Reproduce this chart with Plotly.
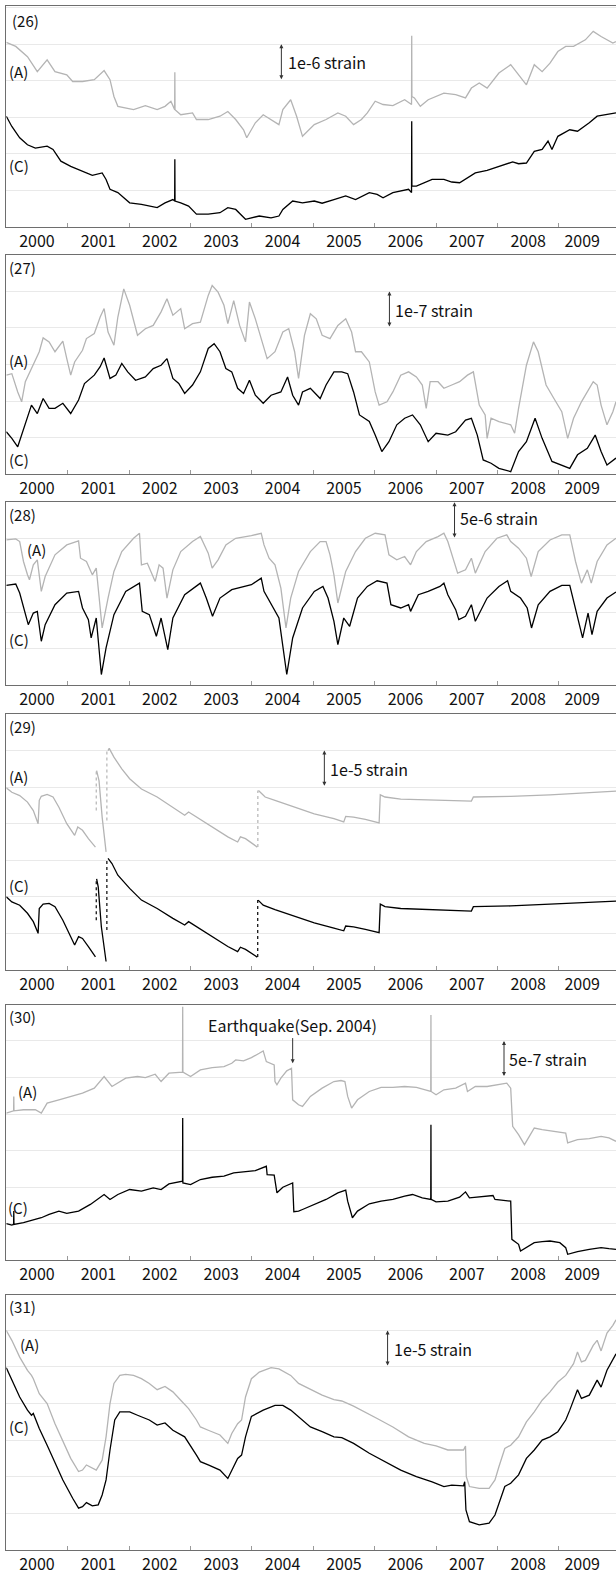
import plotly.graph_objects as go

# ---------------- Panel (26): values in 1e-6 strain ----------------
yr26_a = [2000.0, 2000.154, 2000.345, 2000.505, 2000.665, 2000.793, 2000.985, 2001.081, 2001.241, 2001.433,
          2001.593, 2001.689, 2001.753, 2001.817, 2002.073, 2002.265, 2002.457, 2002.585, 2002.681, 2002.742,
          2002.745, 2002.748, 2002.841, 2003.033, 2003.097, 2003.289, 2003.48, 2003.608, 2003.736, 2003.864,
          2003.916, 2004.056, 2004.184, 2004.312, 2004.44, 2004.504, 2004.632, 2004.728, 2004.824, 2005.016,
          2005.208, 2005.4, 2005.528, 2005.656, 2005.784, 2005.88, 2006.008, 2006.136, 2006.296, 2006.488,
          2006.6, 2006.603, 2006.606, 2006.647, 2006.743, 2006.871, 2006.999, 2007.127, 2007.319, 2007.479,
          2007.575, 2007.703, 2007.831, 2008.023, 2008.215, 2008.343, 2008.471, 2008.599, 2008.727, 2008.855,
          2008.983, 2009.111, 2009.239, 2009.431, 2009.559, 2009.687, 2009.879, 2009.93]
v26_a = [5.05, 4.94, 4.66, 4.25, 4.57, 4.25, 4.16, 3.98, 3.98, 4.03,
         4.28, 4.03, 3.57, 3.30, 3.21, 3.32, 3.21, 3.30, 3.44, 3.21,
         4.23, 3.21, 3.07, 3.12, 2.94, 2.94, 3.03, 3.16, 2.94, 2.66,
         2.44, 2.85, 3.07, 2.94, 2.80, 3.21, 3.48, 3.03, 2.48, 2.80,
         2.94, 3.12, 3.03, 2.80, 2.94, 3.12, 3.44, 3.35, 3.32, 3.48,
         3.35, 5.23, 3.57, 3.53, 3.30, 3.48, 3.57, 3.66, 3.62, 3.53,
         3.80, 3.94, 3.80, 4.21, 4.44, 4.16, 3.89, 4.44, 4.25, 4.48,
         4.80, 4.94, 4.94, 5.12, 5.35, 5.21, 5.03, 5.07]
yr26_c = [2000.0, 2000.09, 2000.218, 2000.345, 2000.473, 2000.665, 2000.761, 2000.889, 2001.049, 2001.241,
          2001.401, 2001.561, 2001.625, 2001.689, 2001.817, 2002.009, 2002.201, 2002.457, 2002.585, 2002.713,
          2002.742, 2002.745, 2002.748, 2002.841, 2002.969, 2003.097, 2003.289, 2003.48, 2003.608, 2003.736,
          2003.896, 2004.12, 2004.312, 2004.44, 2004.504, 2004.664, 2004.824, 2005.016, 2005.144, 2005.336,
          2005.528, 2005.688, 2005.912, 2006.04, 2006.136, 2006.296, 2006.424, 2006.552, 2006.6, 2006.603,
          2006.606, 2006.679, 2006.807, 2006.935, 2007.127, 2007.255, 2007.383, 2007.511, 2007.639, 2007.831,
          2008.023, 2008.247, 2008.343, 2008.471, 2008.599, 2008.727, 2008.823, 2008.887, 2008.983, 2009.177,
          2009.303, 2009.495, 2009.623, 2009.751, 2009.93]
v26_c = [3.03, 2.75, 2.44, 2.25, 2.16, 2.21, 2.12, 1.80, 1.66, 1.53,
         1.41, 1.48, 1.30, 1.03, 0.94, 0.66, 0.62, 0.53, 0.66, 0.75,
         0.71, 1.85, 0.71, 0.66, 0.57, 0.35, 0.35, 0.39, 0.53, 0.48,
         0.21, 0.30, 0.25, 0.30, 0.48, 0.71, 0.66, 0.71, 0.65, 0.75,
         0.85, 0.75, 0.94, 0.89, 0.80, 0.94, 0.98, 1.03, 0.94, 2.89,
         1.12, 1.12, 1.21, 1.30, 1.30, 1.23, 1.21, 1.35, 1.48, 1.55,
         1.66, 1.78, 1.73, 1.75, 2.07, 2.12, 2.35, 2.12, 2.48, 2.66,
         2.62, 2.85, 3.03, 3.07, 3.12]

# ---------------- Panel (27): values in 1e-7 strain ----------------
yr27_a = [2000.0, 2000.09, 2000.186, 2000.25, 2000.31, 2000.41, 2000.473, 2000.537, 2000.60, 2000.697,
          2000.793, 2000.921, 2000.985, 2001.049, 2001.113, 2001.241, 2001.305, 2001.433, 2001.529, 2001.593,
          2001.657, 2001.753, 2001.817, 2001.913, 2002.009, 2002.137, 2002.265, 2002.393, 2002.521, 2002.617,
          2002.713, 2002.841, 2002.905, 2003.033, 2003.161, 2003.289, 2003.353, 2003.449, 2003.545, 2003.608,
          2003.704, 2003.8, 2003.896, 2003.96, 2004.056, 2004.184, 2004.248, 2004.376, 2004.504, 2004.6,
          2004.696, 2004.76, 2004.856, 2004.952, 2005.048, 2005.144, 2005.272, 2005.4, 2005.528, 2005.624,
          2005.688, 2005.784, 2005.912, 2006.008, 2006.072, 2006.2, 2006.296, 2006.424, 2006.552, 2006.679,
          2006.775, 2006.839, 2006.903, 2007.031, 2007.127, 2007.255, 2007.383, 2007.511, 2007.607, 2007.703,
          2007.799, 2007.831, 2007.895, 2008.023, 2008.215, 2008.279, 2008.343, 2008.471, 2008.586, 2008.663,
          2008.791, 2008.919, 2009.047, 2009.143, 2009.239, 2009.367, 2009.559, 2009.623, 2009.687, 2009.783,
          2009.879, 2009.93]
v27_a = [2.71, 2.75, 2.25, 1.98, 2.53, 2.89, 3.16, 3.35, 3.73, 3.62,
         3.35, 3.64, 3.16, 2.71, 3.07, 3.39, 3.71, 3.85, 4.30, 4.53,
         3.89, 3.53, 4.30, 5.07, 4.62, 3.80, 3.98, 4.07, 4.44, 4.80,
         4.35, 4.53, 3.98, 4.12, 4.16, 4.89, 5.16, 4.98, 4.62, 4.12,
         4.75, 4.07, 3.62, 4.71, 4.25, 3.53, 3.16, 3.35, 3.89, 3.98,
         3.35, 2.62, 3.80, 4.39, 4.25, 3.80, 3.71, 4.07, 4.25, 3.89,
         3.35, 3.35, 3.07, 2.25, 1.89, 1.98, 2.25, 2.71, 2.80, 2.66,
         2.44, 1.80, 2.53, 2.53, 2.35, 2.44, 2.53, 2.71, 2.80, 1.89,
         1.62, 0.98, 1.53, 1.44, 1.35, 1.12, 1.80, 2.98, 3.62, 3.35,
         2.44, 2.07, 1.71, 0.98, 1.53, 1.98, 2.53, 2.44, 1.89, 1.35,
         1.71, 1.98]
yr27_c = [2000.0, 2000.09, 2000.186, 2000.28, 2000.41, 2000.505, 2000.60, 2000.697, 2000.793, 2000.921,
          2001.049, 2001.177, 2001.273, 2001.433, 2001.529, 2001.593, 2001.689, 2001.785, 2001.881, 2001.977,
          2002.105, 2002.265, 2002.393, 2002.521, 2002.617, 2002.713, 2002.809, 2002.905, 2003.033, 2003.161,
          2003.289, 2003.385, 2003.48, 2003.576, 2003.672, 2003.768, 2003.864, 2003.96, 2004.056, 2004.184,
          2004.312, 2004.472, 2004.581, 2004.664, 2004.76, 2004.824, 2004.952, 2005.112, 2005.208, 2005.336,
          2005.464, 2005.56, 2005.656, 2005.752, 2005.912, 2006.008, 2006.116, 2006.232, 2006.36, 2006.488,
          2006.616, 2006.743, 2006.871, 2006.999, 2007.191, 2007.319, 2007.479, 2007.575, 2007.671, 2007.767,
          2007.895, 2008.023, 2008.215, 2008.343, 2008.471, 2008.612, 2008.727, 2008.887, 2009.047, 2009.177,
          2009.303, 2009.463, 2009.591, 2009.687, 2009.783, 2009.879, 2009.93]
v27_c = [1.16, 0.98, 0.75, 1.25, 1.89, 1.66, 2.07, 1.80, 1.80, 1.94,
         1.66, 2.03, 2.48, 2.71, 2.94, 3.18, 2.62, 2.71, 3.03, 2.80,
         2.57, 2.66, 2.89, 2.98, 3.16, 2.62, 2.48, 2.21, 2.44, 2.80,
         3.44, 3.57, 3.35, 2.89, 2.80, 2.35, 2.21, 2.57, 2.16, 1.94,
         2.16, 2.25, 2.66, 2.16, 1.89, 2.25, 2.35, 2.07, 2.44, 2.80,
         2.80, 2.75, 2.25, 1.62, 1.44, 1.07, 0.62, 0.89, 1.35, 1.53,
         1.62, 1.35, 0.89, 1.12, 1.07, 1.16, 1.48, 1.53, 1.07, 0.39,
         0.30, 0.16, 0.07, 0.62, 0.89, 1.53, 0.98, 0.35, 0.25, 0.16,
         0.53, 0.71, 1.07, 0.62, 0.25, 0.39, 0.44]

# ---------------- Panel (28): values in 1e-6 strain ----------------
yr28_a = [2000.0, 2000.154, 2000.218, 2000.28, 2000.345, 2000.377, 2000.44, 2000.505, 2000.57, 2000.633,
          2000.793, 2000.985, 2001.177, 2001.209, 2001.305, 2001.401, 2001.465, 2001.529, 2001.561, 2001.657,
          2001.753, 2001.881, 2002.073, 2002.169, 2002.201, 2002.297, 2002.425, 2002.489, 2002.553, 2002.617,
          2002.713, 2002.841, 2003.033, 2003.161, 2003.225, 2003.289, 2003.353, 2003.449, 2003.576, 2003.736,
          2003.992, 2004.152, 2004.197, 2004.28, 2004.376, 2004.472, 2004.555, 2004.632, 2004.76, 2004.952,
          2005.112, 2005.208, 2005.272, 2005.336, 2005.4, 2005.528, 2005.688, 2005.848, 2006.008, 2006.168,
          2006.232, 2006.36, 2006.488, 2006.584, 2006.679, 2006.839, 2007.031, 2007.127, 2007.191, 2007.287,
          2007.351, 2007.479, 2007.575, 2007.639, 2007.799, 2007.991, 2008.151, 2008.215, 2008.343, 2008.471,
          2008.548, 2008.663, 2008.855, 2009.047, 2009.177, 2009.271, 2009.367, 2009.463, 2009.527, 2009.623,
          2009.783, 2009.93]
v28_a = [19.86, 20.0, 19.64, 16.91, 15.09, 14.41, 16.45, 17.14, 12.82, 14.86,
         17.82, 19.18, 19.73, 17.36, 16.91, 15.09, 16.0, 10.55, 7.82, 11.91,
         15.55, 18.27, 20.09, 20.77, 16.45, 16.68, 14.18, 16.45, 16.0, 11.91,
         15.77, 18.27, 19.64, 20.32, 19.18, 18.05, 16.0, 17.14, 19.18, 20.09,
         20.45, 20.77, 19.18, 17.36, 16.45, 13.27, 7.82, 11.91, 15.55, 18.27,
         19.64, 19.64, 17.82, 15.09, 11.23, 15.55, 18.27, 20.09, 20.77, 20.55,
         17.82, 17.14, 17.59, 16.45, 18.27, 19.64, 20.32, 20.77, 19.64, 17.14,
         15.32, 15.77, 17.36, 15.32, 18.27, 20.09, 20.55, 19.64, 18.73, 17.36,
         14.86, 18.27, 19.86, 20.55, 20.55, 16.91, 13.95, 15.77, 13.95, 16.91,
         19.18, 20.09]
yr28_c = [2000.0, 2000.154, 2000.218, 2000.28, 2000.358, 2000.44, 2000.505, 2000.57, 2000.633, 2000.793,
          2000.985, 2001.177, 2001.241, 2001.337, 2001.382, 2001.465, 2001.548, 2001.625, 2001.753, 2001.945,
          2002.169, 2002.214, 2002.329, 2002.444, 2002.521, 2002.63, 2002.713, 2002.905, 2003.161, 2003.257,
          2003.359, 2003.48, 2003.672, 2003.992, 2004.152, 2004.197, 2004.312, 2004.44, 2004.568, 2004.664,
          2004.824, 2005.016, 2005.157, 2005.24, 2005.336, 2005.4, 2005.496, 2005.592, 2005.72, 2005.88,
          2006.04, 2006.2, 2006.264, 2006.424, 2006.552, 2006.584, 2006.711, 2006.871, 2007.063, 2007.127,
          2007.191, 2007.319, 2007.37, 2007.479, 2007.575, 2007.639, 2007.831, 2008.023, 2008.164, 2008.215,
          2008.375, 2008.484, 2008.554, 2008.663, 2008.855, 2009.047, 2009.177, 2009.271, 2009.386, 2009.475,
          2009.539, 2009.623, 2009.783, 2009.93]
v28_c = [13.64, 13.82, 12.59, 10.55, 8.27, 9.86, 10.09, 6.0, 8.27, 11.0,
         12.59, 12.82, 10.55, 8.95, 6.45, 9.18, 1.45, 5.09, 9.64, 12.82,
         13.95, 10.09, 9.64, 6.68, 9.18, 4.86, 9.18, 12.36, 13.95, 11.91,
         9.41, 11.91, 13.05, 13.73, 14.64, 12.82, 11.0, 9.18, 1.45, 6.45,
         10.55, 12.82, 13.5, 11.91, 8.73, 5.55, 9.18, 8.05, 11.91, 13.5,
         14.27, 13.95, 11.0, 10.55, 11.0, 10.09, 12.36, 12.82, 13.5, 13.95,
         12.36, 10.32, 8.95, 9.41, 11.0, 8.73, 11.91, 13.5, 14.27, 12.82,
         11.91, 10.55, 7.82, 11.0, 12.82, 13.64, 13.64, 10.55, 6.45, 9.86,
         6.91, 10.09, 11.91, 12.73]

# ---------------- Panel (29): values in 1e-5 strain (None = data gap) ----------------
yr29_a = [2000.0, 2000.09, 2000.218, 2000.345, 2000.44, 2000.518, 2000.537, 2000.57, 2000.665, 2000.761,
          2000.857, 2000.985, 2001.113, 2001.164, 2001.241, 2001.337, 2001.452, None,
          2001.471, 2001.51, 2001.561, 2001.625, None,
          2001.657, 2001.676, 2001.753, 2001.881, 2002.009, 2002.201, 2002.457, 2002.713, 2002.905, 2002.969,
          2003.097, 2003.353, 2003.608, 2003.768, 2003.813, 2003.896, 2004.088, None,
          2004.107, 2004.216, 2004.376, 2004.696, 2005.016, 2005.336, 2005.496, 2005.528, 2005.656, 2005.848,
          2006.072, 2006.091, 2006.168, 2006.424, 2006.807, 2007.255, 2007.575, 2007.607, 2007.895, 2008.215,
          2008.855, 2009.495, 2009.93]
v29_a = [4.98, 4.86, 4.77, 4.59, 4.36, 4.0, 4.64, 4.75, 4.80, 4.73,
         4.45, 4.0, 3.68, 3.91, 3.82, 3.59, 3.36, None,
         5.45, 5.18, 4.18, 3.23, None,
         6.0, 6.06, 5.82, 5.50, 5.23, 4.95, 4.73, 4.45, 4.23, 4.32,
         4.18, 3.91, 3.64, 3.50, 3.64, 3.59, 3.36, None,
         4.91, 4.73, 4.64, 4.45, 4.27, 4.14, 4.05, 4.20, 4.18, 4.12,
         4.02, 4.79, 4.73, 4.67, 4.65, 4.64, 4.62, 4.73, 4.73, 4.75,
         4.79, 4.85, 4.89]
yr29_c = [2000.0, 2000.09, 2000.218, 2000.345, 2000.44, 2000.518, 2000.537, 2000.60, 2000.697, 2000.793,
          2000.921, 2001.017, 2001.113, 2001.177, 2001.241, 2001.337, 2001.452, None,
          2001.471, 2001.497, 2001.548, 2001.625, None,
          2001.657, 2001.721, 2001.817, 2002.009, 2002.201, 2002.457, 2002.713, 2002.905, 2002.969, 2003.097,
          2003.353, 2003.608, 2003.768, 2003.813, 2003.896, 2004.088, None,
          2004.101, 2004.184, 2004.376, 2004.696, 2005.016, 2005.336, 2005.496, 2005.528, 2005.656, 2005.848,
          2006.072, 2006.091, 2006.168, 2006.424, 2006.935, 2007.575, 2007.607, 2007.895, 2008.215, 2008.855,
          2009.495, 2009.93]
v29_c = [2.0, 1.86, 1.77, 1.55, 1.32, 1.0, 1.68, 1.80, 1.82, 1.73,
         1.36, 1.0, 0.68, 0.91, 0.86, 0.64, 0.36, None,
         2.49, 2.27, 1.18, 0.23, None,
         3.05, 2.91, 2.59, 2.23, 1.91, 1.68, 1.41, 1.23, 1.32, 1.18,
         0.91, 0.64, 0.5, 0.62, 0.56, 0.35, None,
         1.91, 1.77, 1.65, 1.47, 1.29, 1.14, 1.07, 1.2, 1.18, 1.11,
         1.02, 1.80, 1.73, 1.68, 1.64, 1.61, 1.73, 1.73, 1.75, 1.80,
         1.86, 1.88]
# sparse samples across the fast jumps: (year, from, to)
jumps29_a = [(2001.465, 4.36, 5.45), (2001.638, 4.09, 6.0), (2004.097, 3.36, 4.91)]
jumps29_c = [(2001.465, 1.36, 2.49), (2001.638, 1.09, 3.05), (2004.095, 0.35, 1.91)]

# ---------------- Panel (30): values in 1e-7 strain ----------------
yr30_a = [2000.0, 2000.09, 2000.119, 2000.122, 2000.125, 2000.28, 2000.473, 2000.57, 2000.665, 2000.857,
          2001.049, 2001.241, 2001.433, 2001.593, 2001.721, 2001.817, 2001.945, 2002.137, 2002.265, 2002.425,
          2002.521, 2002.649, 2002.87, 2002.873, 2002.876, 2003.001, 2003.161, 2003.353, 2003.545, 2003.672,
          2003.736, 2003.864, 2003.992, 2004.12, 2004.184, 2004.235, 2004.312, 2004.363, 2004.376, 2004.408,
          2004.472, 2004.568, 2004.645, 2004.664, 2004.76, 2004.824, 2004.952, 2005.144, 2005.336, 2005.451,
          2005.515, 2005.56, 2005.624, 2005.72, 2005.912, 2006.104, 2006.296, 2006.488, 2006.679, 2006.807,
          2006.913, 2006.916, 2006.919, 2006.999, 2007.127, 2007.319, 2007.479, 2007.511, 2007.639, 2007.831,
          2007.991, 2008.151, 2008.215, 2008.247, 2008.343, 2008.439, 2008.535, 2008.599, 2008.727, 2008.919,
          2009.111, 2009.143, 2009.303, 2009.495, 2009.687, 2009.815, 2009.93]
v30_a = [20.14, 20.36, 20.45, 22.41, 20.45, 20.59, 20.59, 20.14, 21.5, 21.95,
         22.41, 22.86, 23.55, 25.14, 23.77, 24.23, 24.91, 25.14, 25.0, 25.45,
         24.45, 25.59, 25.73, 34.68, 25.73, 25.14, 26.05, 26.36, 26.5, 26.95,
         27.41, 27.27, 27.73, 28.32, 28.64, 27.18, 26.95, 26.73, 24.45, 24.0,
         24.91, 25.91, 26.27, 21.95, 21.27, 21.05, 22.41, 23.55, 24.45, 24.59,
         24.45, 22.41, 20.82, 21.95, 23.09, 23.64, 23.64, 23.77, 23.64, 23.32,
         23.09, 33.55, 23.09, 22.64, 23.32, 23.55, 24.23, 23.09, 23.77, 23.77,
         24.0, 24.23, 23.55, 18.32, 17.18, 15.82, 17.18, 18.09, 17.86, 17.64,
         17.41, 16.05, 16.5, 16.64, 16.95, 16.73, 16.27]
yr30_c = [2000.0, 2000.09, 2000.119, 2000.122, 2000.125, 2000.28, 2000.473, 2000.57, 2000.697, 2000.857,
          2000.985, 2001.177, 2001.369, 2001.593, 2001.689, 2001.817, 2002.009, 2002.201, 2002.393, 2002.521,
          2002.649, 2002.87, 2002.873, 2002.876, 2003.001, 2003.161, 2003.353, 2003.545, 2003.704, 2003.864,
          2004.056, 2004.235, 2004.248, 2004.363, 2004.376, 2004.408, 2004.504, 2004.664, 2004.683, 2004.76,
          2004.824, 2005.016, 2005.208, 2005.4, 2005.528, 2005.56, 2005.637, 2005.72, 2005.912, 2006.104,
          2006.296, 2006.488, 2006.616, 2006.775, 2006.913, 2006.916, 2006.919, 2006.999, 2007.191, 2007.383,
          2007.479, 2007.543, 2007.767, 2007.927, 2007.959, 2008.215, 2008.234, 2008.343, 2008.375, 2008.471,
          2008.599, 2008.727, 2008.855, 2009.015, 2009.111, 2009.143, 2009.303, 2009.495, 2009.687, 2009.815,
          2009.93]
v30_c = [5.0, 4.82, 4.91, 6.73, 4.91, 5.14, 5.59, 5.82, 6.27, 6.73,
         6.41, 6.73, 7.64, 9.0, 8.32, 9.0, 9.68, 9.45, 9.91, 9.68,
         10.45, 10.82, 19.45, 10.59, 10.36, 11.05, 11.36, 11.5, 11.95, 12.09,
         12.27, 12.86, 11.73, 11.64, 10.82, 9.23, 10.0, 10.59, 6.64, 6.73,
         6.95, 7.64, 8.32, 9.23, 9.59, 8.09, 5.82, 6.73, 7.73, 8.09,
         8.32, 8.77, 9.0, 8.55, 8.32, 18.55, 8.32, 8.0, 8.09, 8.64,
         9.36, 8.55, 8.77, 8.86, 8.32, 8.09, 2.86, 2.18, 1.27, 1.73,
         2.41, 2.55, 2.64, 2.41, 1.73, 0.82, 1.18, 1.5, 1.73, 1.59,
         1.5]

# ---------------- Panel (31): values in 1e-5 strain ----------------
yr31_a = [2000.0, 2000.09, 2000.218, 2000.345, 2000.41, 2000.44, 2000.537, 2000.665, 2000.793, 2000.921,
          2001.049, 2001.177, 2001.241, 2001.305, 2001.401, 2001.465, 2001.561, 2001.625, 2001.689, 2001.753,
          2001.849, 2001.945, 2002.073, 2002.201, 2002.329, 2002.457, 2002.585, 2002.713, 2002.841, 2002.969,
          2003.097, 2003.161, 2003.289, 2003.48, 2003.608, 2003.672, 2003.768, 2003.832, 2003.896, 2003.992,
          2004.12, 2004.312, 2004.44, 2004.632, 2004.76, 2004.952, 2005.144, 2005.336, 2005.464, 2005.656,
          2005.848, 2006.04, 2006.296, 2006.552, 2006.807, 2006.999, 2007.191, 2007.447, 2007.479, 2007.492,
          2007.543, 2007.703, 2007.863, 2007.959, 2008.023, 2008.119, 2008.215, 2008.343, 2008.471, 2008.599,
          2008.727, 2008.855, 2008.983, 2009.111, 2009.239, 2009.303, 2009.367, 2009.431, 2009.559, 2009.623,
          2009.687, 2009.783, 2009.879, 2009.93]
v31_a = [6.0, 5.73, 5.27, 4.91, 4.77, 4.68, 4.27, 4.0, 3.45, 2.95,
         2.5, 2.14, 2.18, 2.32, 2.23, 2.18, 2.45, 3.09, 4.0, 4.55,
         4.77, 4.8, 4.77, 4.68, 4.55, 4.38, 4.47, 4.32, 4.09, 3.86,
         3.55, 3.36, 3.27, 3.14, 2.91, 3.18, 3.45, 3.55, 4.18, 4.68,
         4.86, 4.98, 4.95, 4.77, 4.55, 4.38, 4.23, 4.11, 4.07, 3.93,
         3.77, 3.59, 3.36, 3.09, 2.91, 2.84, 2.73, 2.73, 2.84, 2.0,
         1.73, 1.68, 1.68, 1.91, 2.27, 2.77, 2.86, 3.09, 3.5, 3.77,
         4.09, 4.32, 4.59, 4.77, 5.09, 5.41, 5.14, 5.18, 5.59, 5.73,
         5.44, 5.93, 6.14, 6.29]
yr31_c = [2000.0, 2000.09, 2000.218, 2000.345, 2000.41, 2000.44, 2000.537, 2000.665, 2000.793, 2000.921,
          2001.081, 2001.177, 2001.241, 2001.305, 2001.401, 2001.497, 2001.561, 2001.625, 2001.689, 2001.766,
          2001.849, 2002.009, 2002.137, 2002.329, 2002.457, 2002.585, 2002.713, 2002.905, 2003.097, 2003.161,
          2003.289, 2003.48, 2003.608, 2003.704, 2003.768, 2003.832, 2003.896, 2003.992, 2004.184, 2004.376,
          2004.504, 2004.632, 2004.76, 2004.952, 2005.144, 2005.336, 2005.464, 2005.656, 2005.912, 2006.168,
          2006.424, 2006.679, 2006.935, 2007.127, 2007.255, 2007.447, 2007.466, 2007.486, 2007.543, 2007.703,
          2007.863, 2007.959, 2008.023, 2008.119, 2008.215, 2008.343, 2008.471, 2008.599, 2008.727, 2008.855,
          2008.983, 2009.111, 2009.177, 2009.303, 2009.367, 2009.495, 2009.623, 2009.687, 2009.783, 2009.879,
          2009.93]
v31_c = [4.98, 4.64, 4.18, 3.82, 3.68, 3.73, 3.32, 2.86, 2.36, 1.91,
         1.41, 1.14, 1.18, 1.29, 1.2, 1.23, 1.5, 1.91, 2.73, 3.55,
         3.77, 3.77, 3.68, 3.55, 3.41, 3.47, 3.27, 3.09, 2.59, 2.41,
         2.32, 2.18, 1.95, 2.27, 2.5, 2.59, 3.09, 3.65, 3.82, 3.95,
         3.95, 3.82, 3.64, 3.36, 3.23, 3.09, 3.07, 2.91, 2.64, 2.41,
         2.18, 2.0, 1.86, 1.73, 1.77, 1.75, 1.86, 1.09, 0.77, 0.68,
         0.73, 0.95, 1.27, 1.73, 1.82, 2.05, 2.5, 2.73, 3.0, 3.09,
         3.23, 3.55, 3.82, 4.38, 4.14, 4.23, 4.64, 4.45, 4.91, 5.23,
         5.36]

# x-axis labels (one per year, drawn mid-year)
year_labels = ["2000", "2001", "2002", "2003", "2004", "2005", "2006", "2007", "2008", "2009"]
label_pos = [2000.5, 2001.5, 2002.5, 2003.5, 2004.5, 2005.5, 2006.5, 2007.5, 2008.5, 2009.38]
year_bounds = [2001, 2002, 2003, 2004, 2005, 2006, 2007, 2008, 2009]

FONT = "Noto Sans CJK JP, Noto Sans, sans-serif"
GRAY = "#b4b4b4"
BLACK = "#000000"
W, H = 616, 1575
GRID_PX = 36.67   # pixel height of one scale-bar step

panels = [
    dict(tag="(26)", xa=yr26_a, ya=v26_a, xc=yr26_c, yc=v26_c, step=1, scale="1e-6 strain",
         px=(6.5, 227.7), tag_xy=(2000.06, 5.66), a_xy=(2000.01, 4.25), c_xy=(2000.01, 1.69),
         bar_x=2004.48, bar=(4, 5), bar_txt=(2004.56, 4.5)),
    dict(tag="(27)", xa=yr27_a, ya=v27_a, xc=yr27_c, yc=v27_c, step=1, scale="1e-7 strain",
         px=(255.7, 475.7), tag_xy=(2000.01, 5.66), a_xy=(2000.01, 3.12), c_xy=(2000.01, 0.39),
         bar_x=2006.24, bar=(4, 5), bar_txt=(2006.30, 4.5)),
    dict(tag="(28)", xa=yr28_a, ya=v28_a, xc=yr28_c, yc=v28_c, step=5, scale="5e-6 strain",
         px=(504.0, 687.3), tag_xy=(2000.01, 23.36), a_xy=(2000.31, 18.5), c_xy=(2000.01, 6.23),
         bar_x=2007.30, bar=(20, 25), bar_txt=(2007.35, 22.8)),
    dict(tag="(29)", xa=yr29_a, ya=v29_a, xc=yr29_c, yc=v29_c, step=1, scale="1e-5 strain",
         px=(716.3, 973.0), tag_xy=(2000.01, 6.65), a_xy=(2000.01, 5.29), c_xy=(2000.01, 2.32),
         bar_x=2005.18, bar=(5, 6), bar_txt=(2005.24, 5.5),
         jumps_a=jumps29_a, jumps_c=jumps29_c),
    dict(tag="(30)", xa=yr30_a, ya=v30_a, xc=yr30_c, yc=v30_c, step=5, scale="5e-7 strain",
         px=(1007.7, 1264.3), tag_xy=(2000.01, 33.4), a_xy=(2000.15, 23.09), c_xy=(2000.0, 7.18),
         bar_x=2008.106, bar=(25, 30), bar_txt=(2008.15, 27.5)),
    dict(tag="(31)", xa=yr31_a, ya=v31_a, xc=yr31_c, yc=v31_c, step=1, scale="1e-5 strain",
         px=(1298.7, 1554.7), tag_xy=(2000.01, 6.65), a_xy=(2000.19, 5.62), c_xy=(2000.01, 3.36),
         bar_x=2006.21, bar=(5, 6), bar_txt=(2006.28, 5.5)),
]

fig = go.Figure()
layout = dict(width=W, height=H, margin=dict(l=0, r=0, t=0, b=0),
              paper_bgcolor="white", plot_bgcolor="white", showlegend=False)
annotations = []

for i, p in enumerate(panels):
    n = "" if i == 0 else str(i + 1)
    xr, yr = "x" + n, "y" + n
    top_px, bot_px = p["px"]
    y_top = p["step"] * (bot_px - top_px) / GRID_PX

    layout["xaxis" + n] = dict(
        domain=[6.3 / W, 1.0], anchor=yr, range=[2000, 2009.93],
        showgrid=False, zeroline=False, showline=True, mirror=True,
        linecolor="#6e6e6e", linewidth=1,
        tickmode="array", tickvals=label_pos, ticktext=year_labels, ticks="",
        tickfont=dict(family=FONT, size=16, color="#111"),
        minor=dict(tickmode="array", tickvals=year_bounds, ticks="inside",
                   ticklen=4, tickwidth=1, tickcolor="#9a9a9a", showgrid=False),
    )
    layout["yaxis" + n] = dict(
        domain=[1 - bot_px / H, 1 - top_px / H], anchor=xr, range=[0, y_top],
        showgrid=True, gridcolor="#e9e9e9", gridwidth=1, dtick=p["step"], tick0=0,
        zeroline=False, showline=True, mirror=False, linecolor="#6e6e6e", linewidth=1,
        showticklabels=False, ticks="",
    )

    for key_x, key_y, key_j, col in (("xa", "ya", "jumps_a", GRAY), ("xc", "yc", "jumps_c", BLACK)):
        fig.add_trace(go.Scatter(x=p[key_x], y=p[key_y], mode="lines", xaxis=xr, yaxis=yr,
                                 line=dict(color=col, width=1.3), connectgaps=False,
                                 hoverinfo="skip"))
        if key_j in p:
            jx, jy = [], []
            for yr_j, y0, y1 in p[key_j]:
                jx += [yr_j, yr_j, None]
                jy += [y0, y1, None]
            fig.add_trace(go.Scatter(x=jx, y=jy, mode="lines", xaxis=xr, yaxis=yr,
                                     line=dict(color=col, width=1.2, dash="dot"),
                                     hoverinfo="skip"))

    txt = dict(xref=xr, yref=yr, showarrow=False, xanchor="left", yanchor="middle",
               font=dict(family=FONT, size=15, color="#111"))
    annotations.append(dict(txt, x=p["tag_xy"][0], y=p["tag_xy"][1], text=p["tag"]))
    annotations.append(dict(txt, x=p["a_xy"][0], y=p["a_xy"][1], text="(A)"))
    annotations.append(dict(txt, x=p["c_xy"][0], y=p["c_xy"][1], text="(C)"))
    annotations.append(dict(txt, x=p["bar_txt"][0], y=p["bar_txt"][1], text=p["scale"],
                            font=dict(family=FONT, size=16, color="#111")))
    # double-headed scale bar
    annotations.append(dict(xref=xr, yref=yr, axref=xr, ayref=yr, text="",
                            x=p["bar_x"], y=p["bar"][1], ax=p["bar_x"], ay=p["bar"][0],
                            showarrow=True, arrowhead=2, arrowside="end+start",
                            arrowsize=0.8, arrowwidth=1, arrowcolor="#333"))

# event marker in panel (30)
quake_x = 2004.664
annotations.append(dict(xref="x5", yref="y5", x=quake_x, y=32.18, text="Earthquake(Sep. 2004)",
                        showarrow=False, xanchor="center", yanchor="middle",
                        font=dict(family=FONT, size=16, color="#111")))
annotations.append(dict(xref="x5", yref="y5", axref="x5", ayref="y5", text="",
                        x=quake_x, y=26.95, ax=quake_x, ay=30.6,
                        showarrow=True, arrowhead=2, arrowsize=0.8, arrowwidth=1, arrowcolor="#333"))

layout["annotations"] = annotations
fig.update_layout(**layout)
fig.write_html("out.html")
